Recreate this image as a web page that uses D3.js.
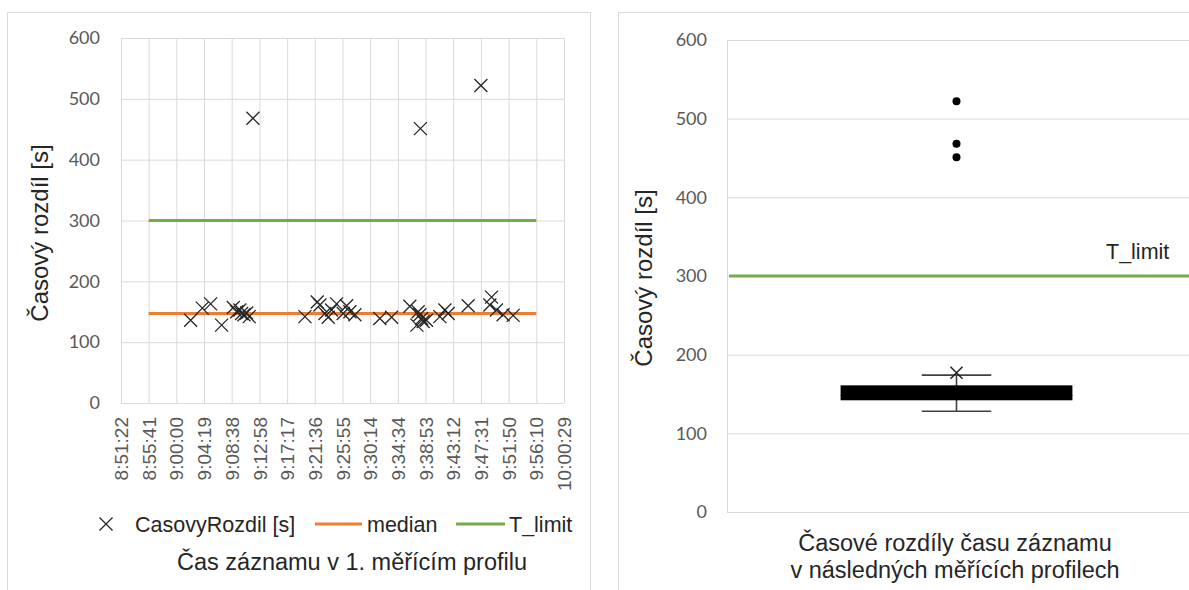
<!DOCTYPE html>
<html>
<head>
<meta charset="utf-8">
<script src="https://cdn.jsdelivr.net/npm/d3@7"></script>
<style>
  body { margin: 0; background: #fff; }
  svg { display: block; }
  .tick text { fill: #595959; }
</style>
</head>
<body>
<svg id="chart" width="1189" height="590"></svg>
<script>
// left chart: time of record in the 1st profile vs. time difference
var casTimes = ["9:02:14", "9:04:03", "9:05:21", "9:07:04", "9:08:53", "9:09:25", "9:09:55", "9:10:11",
	"9:10:33", "9:10:58", "9:11:22", "9:11:57", "9:20:04", "9:21:59", "9:22:24", "9:23:11", "9:23:42",
	"9:24:13", "9:25:00", "9:26:02", "9:26:34", "9:27:05", "9:27:52", "9:31:45", "9:33:35", "9:36:26",
	"9:37:44", "9:37:32", "9:38:00", "9:38:05", "9:38:16", "9:38:31", "9:39:02", "9:41:07", "9:41:54",
	"9:42:25", "9:45:32", "9:47:31", "9:48:55", "9:49:11", "9:49:57", "9:50:59", "9:52:33"];
var casovyRozdil = [136, 156, 163, 128, 157, 150, 153, 147, 145, 148, 142, 468, 142, 166, 161, 147, 141,
	153, 163, 147, 160, 150, 145, 139, 141, 159, 150, 128, 145, 451, 139, 134, 136, 142, 153,
	147, 160, 522, 161, 174, 153, 145, 144];
var lineSpan = ["8:55:41", "9:56:10"];
var medianValue = [147, 147];
var tLimitValue = [300, 300];
var xTickLabels = ["8:51:22", "8:55:41", "9:00:00", "9:04:19", "9:08:38", "9:12:58", "9:17:17", "9:21:36",
	"9:25:55", "9:30:14", "9:34:34", "9:38:53", "9:43:12", "9:47:31", "9:51:50", "9:56:10", "10:00:29"];
var yTicks = [0, 100, 200, 300, 400, 500, 600];

// right chart: box plot
var boxCategory = ["Časové rozdíly času záznamu", "v následných měřících profilech"];
var boxQuartiles = [142, 148, 161];
var boxWhiskers = [128, 174];
var boxMean = [177];
var boxOutliers = [451, 468, 522];

var orange = "#ED7D31", green = "#70AD47", grid = "#d9d9d9";
var xPath = "M-6.5,-6.5L6.5,6.5M6.5,-6.5L-6.5,6.5";

function hms(s) {
	var p = s.split(":");
	return +p[0] * 3600 + +p[1] * 60 + +p[2];
}

var svg = d3.select("#chart");

// panel frames
svg.append("rect").attr("x", 7.5).attr("y", 12.5).attr("width", 583).attr("height", 600)
	.attr("fill", "none").attr("stroke", grid);
svg.append("rect").attr("x", 618.5).attr("y", 12.5).attr("width", 600).attr("height", 600)
	.attr("fill", "none").attr("stroke", grid);

// ---------- left chart ----------
var x = d3.scaleLinear().domain([hms(xTickLabels[0]), hms(xTickLabels[xTickLabels.length - 1])]).range([121, 564]);
var y = d3.scaleLinear().domain([0, 600]).range([403, 38]);

var left = svg.append("g");

var yAxisL = left.append("g")
	.attr("transform", "translate(121,0)")
	.call(d3.axisLeft(y).tickValues(yTicks).tickSize(-(564 - 121)).tickPadding(21));
yAxisL.select(".domain").remove();
yAxisL.selectAll("line").attr("stroke", grid);
yAxisL.selectAll("text").attr("font-family", "Lato").attr("font-size", 18);

var xAxisL = left.append("g")
	.attr("transform", "translate(0,403)")
	.call(d3.axisBottom(x).tickValues(xTickLabels.map(hms)).tickSize(-(403 - 38))
		.tickFormat(function(d, i) { return xTickLabels[i]; }));
xAxisL.select(".domain").remove();
xAxisL.selectAll("line").attr("stroke", grid);
xAxisL.selectAll("text")
	.attr("font-family", "Liberation Sans").attr("font-size", 19)
	.attr("text-anchor", "end")
	.attr("transform", "translate(0,14) rotate(-90)")
	.attr("x", 0).attr("y", 0).attr("dy", "0.35em");

var line = d3.line().x(function(d) { return x(hms(d[0])); }).y(function(d) { return y(d[1]); });

left.append("path")
	.datum(d3.zip(lineSpan, medianValue))
	.attr("d", line).attr("stroke", orange).attr("stroke-width", 3).attr("fill", "none");
left.append("path")
	.datum(d3.zip(lineSpan, tLimitValue))
	.attr("d", line).attr("stroke", green).attr("stroke-width", 3).attr("fill", "none");

left.selectAll(".pt")
	.data(d3.zip(casTimes, casovyRozdil))
	.enter().append("path")
	.attr("class", "pt")
	.attr("d", xPath)
	.attr("transform", function(d) { return "translate(" + x(hms(d[0])) + "," + y(d[1]) + ")"; })
	.attr("stroke", "#262626").attr("stroke-width", 1.3).attr("fill", "none");

left.append("text")
	.attr("transform", "translate(48,233) rotate(-90)")
	.attr("text-anchor", "middle")
	.attr("font-family", "Liberation Sans").attr("font-size", 24).attr("fill", "#262626")
	.text("Časový rozdíl [s]");

// legend
var legend = left.append("g").attr("font-family", "Liberation Sans").attr("font-size", 21.5).attr("fill", "#262626");
legend.append("path").attr("d", xPath).attr("transform", "translate(106,524)")
	.attr("stroke", "#262626").attr("stroke-width", 1.3).attr("fill", "none");
legend.append("text").attr("x", 135).attr("y", 532).text("CasovyRozdil [s]");
legend.append("line").attr("x1", 315).attr("x2", 362).attr("y1", 524).attr("y2", 524)
	.attr("stroke", orange).attr("stroke-width", 3);
legend.append("text").attr("x", 367).attr("y", 532).text("median");
legend.append("line").attr("x1", 456).attr("x2", 505).attr("y1", 524).attr("y2", 524)
	.attr("stroke", green).attr("stroke-width", 3);
legend.append("text").attr("x", 509).attr("y", 532).text("T_limit");

left.append("text")
	.attr("x", 352).attr("y", 570)
	.attr("text-anchor", "middle")
	.attr("font-family", "Liberation Sans").attr("font-size", 23.5).attr("fill", "#262626")
	.text("Čas záznamu v 1. měřícím profilu");

// ---------- right chart ----------
var xb = d3.scaleBand().domain([boxCategory.join(" ")]).range([727, 1186]).paddingInner(0).paddingOuter(0.49);
var yb = d3.scaleLinear().domain([0, 600]).range([512, 40]);
var right = svg.append("g");

var yAxisR = right.append("g")
	.attr("transform", "translate(727,0)")
	.call(d3.axisLeft(yb).tickValues(yTicks).tickSize(-(1189 - 727)).tickPadding(20));
yAxisR.select(".domain").attr("d", "M0.5,40V512").attr("stroke", grid);
yAxisR.selectAll("line").attr("stroke", grid);
yAxisR.selectAll("text").attr("font-family", "Lato").attr("font-size", 18);

right.append("text")
	.attr("transform", "translate(652,278) rotate(-90)")
	.attr("text-anchor", "middle")
	.attr("font-family", "Liberation Sans").attr("font-size", 24).attr("fill", "#262626")
	.text("Časový rozdíl [s]");

right.append("line")
	.attr("x1", 729).attr("x2", 1189).attr("y1", yb(tLimitValue[0])).attr("y2", yb(tLimitValue[0]))
	.attr("stroke", green).attr("stroke-width", 3);
right.append("text")
	.attr("x", 1106).attr("y", yb(tLimitValue[0]) - 17)
	.attr("font-family", "Liberation Sans").attr("font-size", 21.5).attr("fill", "#262626")
	.text("T_limit");

var cat = boxCategory.join(" ");
var bx0 = xb(cat), bw = xb.bandwidth(), bc = bx0 + bw / 2, capW = bw * 0.3;

right.append("line")
	.attr("x1", bc).attr("x2", bc).attr("y1", yb(boxWhiskers[0])).attr("y2", yb(boxWhiskers[1]))
	.attr("stroke", "#404040").attr("stroke-width", 1.6);
right.selectAll(".cap")
	.data(boxWhiskers)
	.enter().append("line")
	.attr("class", "cap")
	.attr("x1", bc - capW / 2).attr("x2", bc + capW / 2)
	.attr("y1", function(d) { return yb(d); }).attr("y2", function(d) { return yb(d); })
	.attr("stroke", "#404040").attr("stroke-width", 1.6);
right.append("rect")
	.attr("x", bx0).attr("width", bw)
	.attr("y", yb(boxQuartiles[2])).attr("height", yb(boxQuartiles[0]) - yb(boxQuartiles[2]))
	.attr("fill", "#000");
right.append("line")
	.attr("x1", bx0).attr("x2", bx0 + bw).attr("y1", yb(boxQuartiles[1])).attr("y2", yb(boxQuartiles[1]))
	.attr("stroke", "#000");
right.selectAll(".mean")
	.data(boxMean)
	.enter().append("path")
	.attr("class", "mean")
	.attr("d", "M-6,-6L6,6M6,-6L-6,6")
	.attr("transform", function(d) { return "translate(" + bc + "," + yb(d) + ")"; })
	.attr("stroke", "#262626").attr("stroke-width", 1.6).attr("fill", "none");
right.selectAll(".out")
	.data(boxOutliers)
	.enter().append("circle")
	.attr("class", "out")
	.attr("cx", bc).attr("cy", function(d) { return yb(d); }).attr("r", 4)
	.attr("fill", "#000");

right.append("g")
	.attr("font-family", "Liberation Sans").attr("font-size", 23.5).attr("fill", "#262626")
	.attr("text-anchor", "middle")
	.selectAll("text")
	.data(boxCategory)
	.enter().append("text")
	.attr("x", 955).attr("y", function(d, i) { return 551 + i * 27; })
	.text(function(d) { return d; });
</script>
</body>
</html>
